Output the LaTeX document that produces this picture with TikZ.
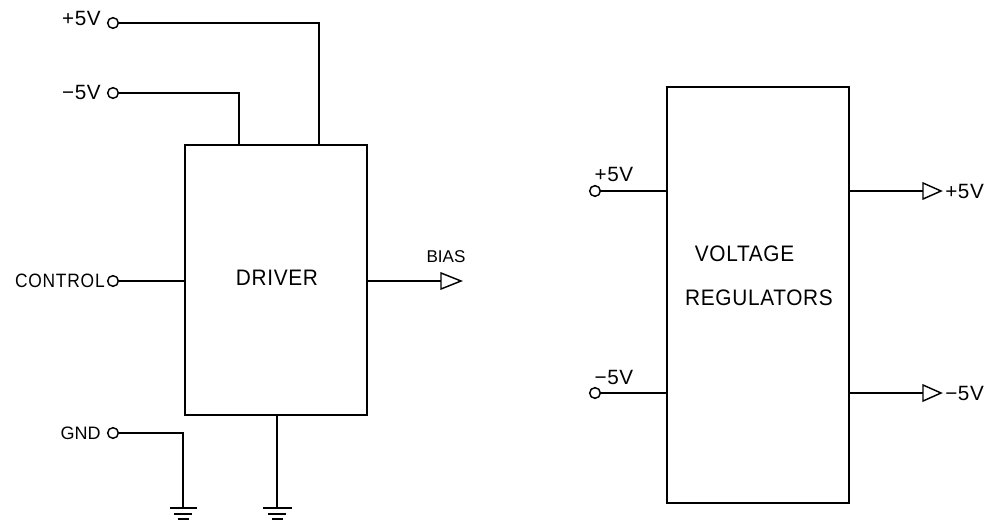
\documentclass[tikz,border=0pt]{standalone}
\usepackage{fontspec}
\setmainfont{Liberation Sans}
\newfontfamily\labfont{Liberation Sans}[LetterSpace=3]
\newfontfamily\ctlfont{Liberation Sans}[FakeStretch=0.9,LetterSpace=4]
\newfontfamily\bigfont{Liberation Sans}[FakeStretch=0.93,LetterSpace=3]
\usetikzlibrary{positioning}
\tikzset{
  x=0.75pt,y=-0.75pt,
  wire/.style={line width=1.5pt,line cap=rect,line join=miter},
  blockbox/.style={draw,line width=1.5pt,inner sep=0pt},
  term/.style={circle,draw,line width=1.1pt,fill=white,minimum size=8pt,inner sep=0pt},
  lab/.style={inner sep=0pt,font=\labfont\fontsize{15.5pt}{17pt}\selectfont},
  ctl/.style={inner sep=0pt,font=\ctlfont\fontsize{14.5pt}{16pt}\selectfont},
  gndlab/.style={inner sep=0pt,font=\fontsize{13.5pt}{15pt}\selectfont},
  biglab/.style={inner sep=0pt,font=\bigfont\fontsize{16.8pt}{19pt}\selectfont},
  smalllab/.style={inner sep=0pt,font=\fontsize{12.8pt}{14pt}\selectfont},
  tri/.style={draw,line width=1.1pt,line join=miter,fill=white},
}
\begin{document}
\begin{tikzpicture}
\useasboundingbox (0,0) rectangle (985,521);
% boxes
\node[blockbox,minimum width=136.5pt,minimum height=202.5pt] (drv) at (276,280) {};
\node[blockbox,minimum width=136.5pt,minimum height=312pt] (reg) at (758,294.5) {};
\node[biglab] (drvl) at (277,277.5) {DRIVER};
\node[biglab] (reg1) at (744.5,253.5) {VOLTAGE};
\node[biglab] (reg2) at (759,297.5) {REGULATORS};
% terminals
\node[term] (tp) at (113,23) {};
\node[term] (tm) at (113,93) {};
\node[term] (tc) at (113,281) {};
\node[term] (tg) at (113,433) {};
\node[term] (rp) at (595,191) {};
\node[term] (rm) at (595,393) {};
% terminal labels
\node[lab,anchor=east] (lp) at (101,18) {+5V};
\node[lab,anchor=east] (lm) at (101,92) {−5V};
\node[ctl,anchor=east] (lc) at (105,281) {CONTROL};
\node[gndlab,anchor=east] (lg) at (101,433) {GND};
\node[lab] (lrp) at (614,174.5) {+5V};
\node[lab] (lrm) at (614,377) {−5V};
\node[smalllab] (lb) at (446,257) {BIAS};
% ground points and bends
\coordinate (g1) at (183,508);
\coordinate (g2) at (277,508);
\coordinate (b1) at (319,23);
\coordinate (b2) at (239,93);
\coordinate (b3) at (183,433);
\coordinate (dp) at (319,145);
\coordinate (dm) at (239,145);
\coordinate (dg) at (277,415);
\coordinate (dc) at (185,281);
\coordinate (db) at (367,281);
\coordinate (arb) at (441,281);
\coordinate (ar1) at (923,191);
\coordinate (ar2) at (923,393);
\coordinate (r1) at (667,191);
\coordinate (r2) at (667,393);
\coordinate (r3) at (849,191);
\coordinate (r4) at (849,393);
% wires
\draw[wire] (tp) -- (b1) -- (dp);
\draw[wire] (tm) -- (b2) -- (dm);
\draw[wire] (tc) -- (dc);
\draw[wire] (tg) -- (b3) -- (g1);
\draw[wire] (dg) -- (g2);
\draw[wire] (db) -- (arb);
\draw[wire] (rp) -- (r1);
\draw[wire] (rm) -- (r2);
\draw[wire] (r3) -- (ar1);
\draw[wire] (r4) -- (ar2);
% buffers
\draw[tri] (arb) ++(0,-8) -- ++(20,8) -- ++(-20,8) -- cycle;
\draw[tri] (ar1) ++(0,-8) -- ++(18,8) -- ++(-18,8) -- cycle;
\draw[tri] (ar2) ++(0,-8) -- ++(18,8) -- ++(-18,8) -- cycle;
\node[lab,anchor=west] (o1) at (945,191) {+5V};
\node[lab,anchor=west] (o2) at (945,393) {−5V};
% grounds
\foreach \c/\w in {g1/12.5,g2/13.5}{
  \draw[wire] (\c) ++(-\w,0) -- ++(2*\w,0);
  \draw[wire] (\c) ++(-8,5.5) -- ++(16,0);
  \draw[wire] (\c) ++(-4.5,11) -- ++(9,0);
}
\end{tikzpicture}
\end{document}
